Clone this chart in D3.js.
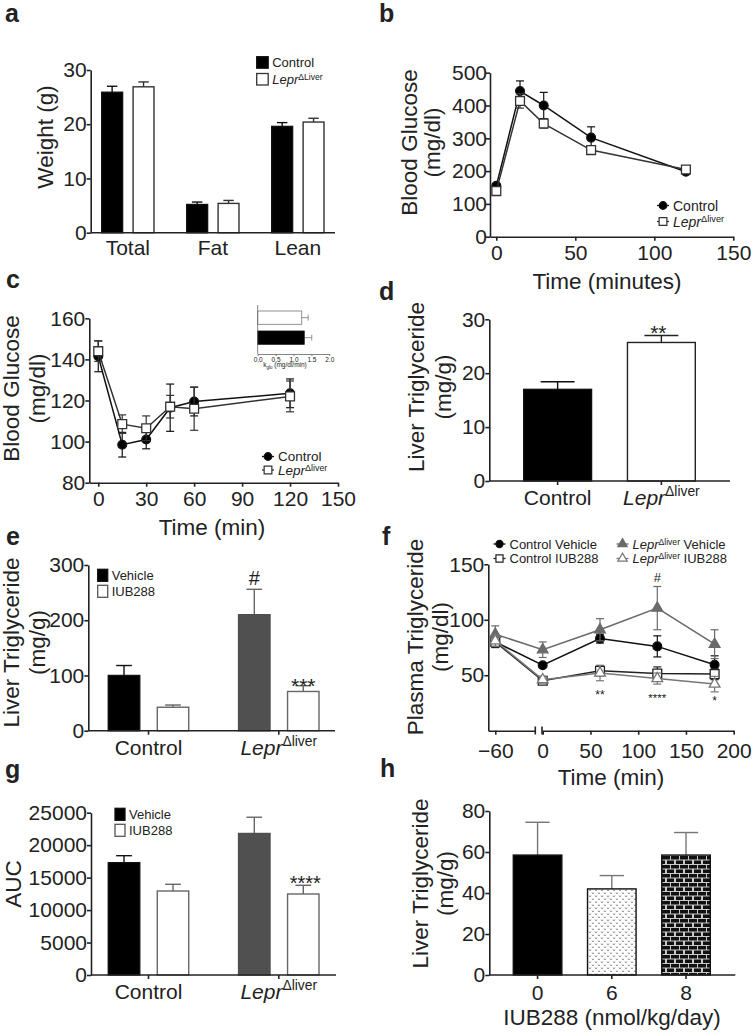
<!DOCTYPE html>
<html><head><meta charset="utf-8">
<script src="https://cdn.jsdelivr.net/npm/d3@7"></script>
<style>
body{margin:0;background:#fff}
svg text{font-family:"Liberation Sans",Arial,sans-serif;fill:#222}
</style>
</head><body>
<svg id="fig" width="752" height="1032"></svg>
<script>
// ---------- data ----------
// a: body composition
const weightGroups = ["Total", "Fat", "Lean"];
const weightControl = [25.9, 5.2, 19.6];
const weightControlSem = [1.1, 0.45, 0.7];
const weightLepr = [26.9, 5.4, 20.4];
const weightLeprSem = [0.9, 0.55, 0.7];
const weightTicks = [0, 10, 20, 30];

// b: GTT
const gttTime = [0, 15, 30, 60, 120];
const gttControl = [155, 444, 400, 302, 198];
const gttControlSem = [6, 31, 40, 33, 8];
const gttLepr = [139, 414, 345, 264, 205];
const gttLeprSem = [8, 22, 14, 10, 8];
const gttYTicks = [0, 100, 200, 300, 400, 500];
const gttXTicks = [0, 50, 100, 150];

// c: ITT
const ittTime = [0, 15, 30, 45, 60, 120];
const ittControl = [141.5, 98.5, 101, 116.5, 119.5, 123.5];
const ittControlSem = [7.5, 6, 4.5, 11.5, 7, 7];
const ittLepr = [144, 108.5, 106.5, 117, 116, 122];
const ittLeprSem = [5, 4.5, 6, 5.5, 10.5, 7.5];
const ittYTicks = [80, 100, 120, 140, 160];
const ittXTicks = [0, 30, 60, 90, 120, 150];
const kGroups = ["Lepr", "Control"];
const kValues = [1.23, 1.30];
const kSem = [0.18, 0.21];
const kTicks = [0, 0.5, 1, 1.5, 2];

// d: liver TG
const tgGroups = ["Control", "Lepr"];
const tgValues = [17.0, 25.7];
const tgSem = [1.4, 1.3];
const tgTicks = [0, 10, 20, 30];

// e: liver TG with IUB288
const trtGroups = ["Control", "Lepr"];
const liverVehicle = [100, 210];
const liverVehicleSem = [18, 46];
const liverIub = [42.5, 71];
const liverIubSem = [4, 10.5];
const liverTicks = [0, 100, 200, 300];

// f: plasma TG time course
const ptgTime = [-60, 0, 60, 120, 180];
const ptgCtrlVeh = [80, 59, 83, 76, 59.5];
const ptgCtrlVehSem = [5, 2, 4, 9.5, 8];
const ptgCtrlIub = [80, 45, 54, 51.5, 51];
const ptgCtrlIubSem = [5, 2, 4.5, 6, 5];
const ptgLeprVeh = [87, 73, 91, 110.5, 78];
const ptgLeprVehSem = [7.5, 7, 10, 19.5, 13];
const ptgLeprIub = [81, 46, 52, 47, 42];
const ptgLeprIubSem = [5, 3, 7, 5, 7];
const ptgYTicks = [50, 100, 150];
const ptgXTicks = [-60, 0, 50, 100, 150, 200];

// g: AUC
const aucVehicle = [17300, 21800];
const aucVehicleSem = [1080, 2500];
const aucIub = [12940, 12480];
const aucIubSem = [1030, 1340];
const aucTicks = [0, 5000, 10000, 15000, 20000, 25000];

// h: dose response
const doseGroups = ["0", "6", "8"];
const doseValues = [58.5, 42, 58.5];
const doseSem = [16, 6.5, 11];
const doseTicks = [0, 20, 40, 60, 80];

// ---------- helpers ----------
const svg = d3.select("#fig");
const INK = "#222";

const defs = svg.append("defs");
const dots = defs.append("pattern").attr("id", "dots").attr("patternUnits", "userSpaceOnUse")
  .attr("width", 6).attr("height", 6);
dots.append("rect").attr("width", 6).attr("height", 6).attr("fill", "#fff");
dots.append("path").attr("d", "M1,1.5 L2,3 L3,1.5 M4,4.5 L5,6 L6,4.5").attr("fill", "none")
  .attr("stroke", "#777").attr("stroke-width", 0.8);
const brick = defs.append("pattern").attr("id", "brick").attr("patternUnits", "userSpaceOnUse")
  .attr("width", 9).attr("height", 9);
brick.append("rect").attr("width", 9).attr("height", 9).attr("fill", "#111");
brick.append("path").attr("d", "M0,0.5H9 M0,5H9 M4.5,0.5V5 M0.5,5V9 M8.5,5V9").attr("fill", "none")
  .attr("stroke", "#ddd").attr("stroke-width", 0.9);

function styleAxis(ax, fs) {
  ax.selectAll("path,line").attr("stroke", INK).attr("stroke-width", 1.6);
  ax.selectAll("text").attr("fill", INK).style("font-size", fs + "px");
  return ax;
}

function leftAxis(y, x0, ticks, fs, pad) {
  const ax = svg.append("g").attr("transform", "translate(" + x0 + ",0)")
    .call(d3.axisLeft(y).tickValues(ticks).tickSize(4).tickSizeOuter(0)
      .tickPadding(pad == null ? 1 : pad).tickFormat(d3.format("d")));
  return styleAxis(ax, fs || 21);
}

function bottomAxis(x, y0, ticks, fs, pad) {
  const ax = svg.append("g").attr("transform", "translate(0," + y0 + ")")
    .call(d3.axisBottom(x).tickValues(ticks).tickSize(4).tickSizeOuter(0)
      .tickPadding(pad).tickFormat(d3.format("d")));
  return styleAxis(ax, fs || 21);
}

function addLepr(t, sup, size, rest, shift) {
  const s = size * (shift || 0.42);
  t.append("tspan").attr("font-style", "italic").text("Lepr");
  t.append("tspan").attr("dy", -s).style("font-size", (size * 0.66) + "px").text(sup);
  if (rest) t.append("tspan").attr("dy", s).text(rest);
}

// category axis for bars: line from xa to xb, labels at band centers
function categoryAxis(x, xa, xb, y0, tick, pad, fs, sup) {
  const ax = svg.append("g").attr("transform", "translate(0," + y0 + ")")
    .call(d3.axisBottom(x).tickSize(tick).tickSizeOuter(0).tickPadding(pad));
  ax.select(".domain").remove();
  styleAxis(ax, fs);
  ax.selectAll(".tick text").each(function(d) {
    if (d === "Lepr") { const t = d3.select(this).text(""); addLepr(t, sup, fs); }
  });
  svg.append("line").attr("x1", xa).attr("x2", xb).attr("y1", y0).attr("y2", y0)
    .attr("stroke", INK).attr("stroke-width", 1.6);
}

function bar(x, w, y, v, sem, fill, stroke, errColor) {
  const g = svg.append("g");
  g.append("line").attr("x1", x + w / 2).attr("x2", x + w / 2).attr("y1", y(v)).attr("y2", y(v + sem))
    .attr("stroke", errColor || stroke).attr("stroke-width", 1.4);
  g.append("line").attr("x1", x + w / 4).attr("x2", x + w * 3 / 4).attr("y1", y(v + sem)).attr("y2", y(v + sem))
    .attr("stroke", errColor || stroke).attr("stroke-width", 1.4);
  g.append("rect").attr("x", x).attr("y", y(v)).attr("width", w).attr("height", y(y.domain()[0]) - y(v))
    .attr("fill", fill).attr("stroke", stroke).attr("stroke-width", 1.4);
}

function yTitle(lines, xs, cy, fs) {
  lines.forEach((s, i) => {
    svg.append("text").attr("transform", "translate(" + xs[i] + "," + cy + ") rotate(-90)")
      .attr("text-anchor", "middle").style("font-size", fs + "px").text(s);
  });
}

function xTitle(s, cx, y, fs) {
  svg.append("text").attr("x", cx).attr("y", y).attr("text-anchor", "middle").style("font-size", fs + "px").text(s);
}

function letter(s, x, y) {
  svg.append("text").attr("x", x).attr("y", y).style("font-size", "25px").style("font-weight", "bold")
    .attr("fill", "#333").text(s);
}

function stars(s, x, y, fs) {
  svg.append("text").attr("x", x).attr("y", y).attr("text-anchor", "middle").style("font-size", fs + "px").text(s);
}

const symCircle = d3.symbol(d3.symbolCircle, 60)();
const symSquare = d3.symbol(d3.symbolSquare, 78)();
const symTriangle = d3.symbol(d3.symbolTriangle, 50)();

function series(x, y, t, v, sem, shape, fill, stroke) {
  const g = svg.append("g");
  g.append("path").datum(t.map((d, i) => [d, v[i]]))
    .attr("d", d3.line().x(d => x(d[0])).y(d => y(d[1])))
    .attr("fill", "none").attr("stroke", stroke).attr("stroke-width", 1.5);
  const e = g.selectAll(".err").data(t).enter().append("g");
  e.append("line").attr("x1", d => x(d)).attr("x2", d => x(d))
    .attr("y1", (d, i) => y(v[i] - sem[i])).attr("y2", (d, i) => y(v[i] + sem[i]));
  e.append("line").attr("x1", d => x(d) - 4).attr("x2", d => x(d) + 4)
    .attr("y1", (d, i) => y(v[i] + sem[i])).attr("y2", (d, i) => y(v[i] + sem[i]));
  e.append("line").attr("x1", d => x(d) - 4).attr("x2", d => x(d) + 4)
    .attr("y1", (d, i) => y(v[i] - sem[i])).attr("y2", (d, i) => y(v[i] - sem[i]));
  e.selectAll("line").attr("stroke", stroke).attr("stroke-width", 1.2);
  return g;
}

function markers(g, x, y, t, v, shape, fill, stroke) {
  g.selectAll(".m").data(t).enter().append("path")
    .attr("transform", (d, i) => "translate(" + x(d) + "," + y(v[i]) + ")")
    .attr("d", shape).attr("fill", fill).attr("stroke", stroke).attr("stroke-width", 1.3);
}

function legendMarker(x, y, shape, fill, stroke, label, fs, sup, rest) {
  svg.append("line").attr("x1", x - 6).attr("x2", x + 6).attr("y1", y).attr("y2", y)
    .attr("stroke", stroke).attr("stroke-width", 1.3);
  svg.append("path").attr("transform", "translate(" + x + "," + y + ")").attr("d", shape)
    .attr("fill", fill).attr("stroke", stroke).attr("stroke-width", 1.2);
  const t = svg.append("text").attr("x", x + 10).attr("y", y + fs * 0.36).style("font-size", fs + "px");
  if (sup) addLepr(t, sup, fs, rest, 0.3); else t.text(label);
}

function legendBox(x, y, w, h, fill, stroke, label, fs, sup) {
  svg.append("rect").attr("x", x).attr("y", y).attr("width", w).attr("height", h)
    .attr("fill", fill).attr("stroke", stroke).attr("stroke-width", 1.3);
  const t = svg.append("text").attr("x", x + w + 4).attr("y", y + h - 1).style("font-size", fs + "px");
  if (sup) addLepr(t, sup, fs, null, 0.32); else t.text(label);
}

// ---------- a ----------
letter("a", 5, 22);
{
  const y = d3.scaleLinear().domain([0, 30]).range([232.7, 70]);
  const x0 = d3.scaleBand().domain(weightGroups).range([101.7, 324]).paddingInner(0.385);
  const x1 = d3.scaleBand().domain(["c", "l"]).range([0, x0.bandwidth()]).paddingInner(0.335);
  weightGroups.forEach((g, i) => {
    bar(x0(g) + x1("c"), x1.bandwidth(), y, weightControl[i], weightControlSem[i], "#000", "#111");
    bar(x0(g) + x1("l"), x1.bandwidth(), y, weightLepr[i], weightLeprSem[i], "#fff", "#333");
  });
  leftAxis(y, 90.7, weightTicks, 21, 0);
  categoryAxis(x0, 90.7, 335, 232.7, 0, 7, 21);
  yTitle(["Weight (g)"], [53], 137, 22.5);
  legendBox(256.7, 56.7, 11.5, 11.5, "#000", "#111", "Control", 13);
  legendBox(256.7, 73.5, 11.5, 11.5, "#fff", "#333", "", 13, "\u0394Liver");
}

// ---------- b ----------
letter("b", 379, 22);
{
  const y = d3.scaleLinear().domain([0, 500]).range([236.7, 72.7]);
  const x = d3.scaleLinear().domain([-4, 150]).range([490, 733.3]);
  leftAxis(y, 490, gttYTicks, 21, -1);
  bottomAxis(x, 236.7, gttXTicks, 21, 4);
  const g1 = series(x, y, gttTime, gttControl, gttControlSem, symCircle, "#000", "#111");
  const g2 = series(x, y, gttTime, gttLepr, gttLeprSem, symSquare, "#fff", "#333");
  markers(g1, x, y, gttTime, gttControl, symCircle, "#000", "#111");
  markers(g2, x, y, gttTime, gttLepr, symSquare, "#fff", "#333");
  yTitle(["Blood Glucose", "(mg/dl)"], [416.5, 439.5], 142.5, 22.5);
  xTitle("Time (minutes)", 607, 288.5, 22.5);
  legendMarker(663, 205.5, d3.symbol(d3.symbolCircle, 45)(), "#000", "#111", "Control", 14);
  legendMarker(663, 221.5, d3.symbol(d3.symbolSquare, 60)(), "#fff", "#333", "", 14, "\u0394liver");
}

// ---------- c ----------
letter("c", 6, 288);
{
  const y = d3.scaleLinear().domain([80, 160]).range([482.7, 318.3]);
  const x = d3.scaleLinear().domain([-5.6, 150]).range([89.3, 338]);
  leftAxis(y, 89.3, ittYTicks, 21, 0);
  bottomAxis(x, 482.7, ittXTicks, 21, 4);
  const g1 = series(x, y, ittTime, ittControl, ittControlSem, symCircle, "#000", "#111");
  const g2 = series(x, y, ittTime, ittLepr, ittLeprSem, symSquare, "#fff", "#333");
  markers(g1, x, y, ittTime, ittControl, symCircle, "#000", "#111");
  markers(g2, x, y, ittTime, ittLepr, symSquare, "#fff", "#333");
  yTitle(["Blood Glucose", "(mg/dl)"], [19, 45], 388.5, 22.5);
  xTitle("Time (min)", 212, 535, 22.5);
  legendMarker(268, 456.5, d3.symbol(d3.symbolCircle, 45)(), "#000", "#111", "Control", 13.5);
  legendMarker(268, 470, d3.symbol(d3.symbolSquare, 60)(), "#fff", "#333", "", 13.5, "\u0394liver");

  // inset
  const kx = d3.scaleLinear().domain([0, 2]).range([257.7, 329.3]);
  const ky = d3.scaleBand().domain(kGroups).range([311, 344.3]).paddingInner(0.335);
  const kg = svg.append("g");
  kGroups.forEach((k, i) => {
    const yy = ky(k), h = ky.bandwidth(), c = yy + h / 2;
    const col = k === "Control" ? "#000" : "#fff";
    const st = k === "Control" ? "#111" : "#777";
    kg.append("line").attr("x1", kx(kValues[i])).attr("x2", kx(kValues[i] + kSem[i])).attr("y1", c).attr("y2", c)
      .attr("stroke", "#777").attr("stroke-width", 0.8);
    kg.append("line").attr("x1", kx(kValues[i] + kSem[i])).attr("x2", kx(kValues[i] + kSem[i]))
      .attr("y1", c - 3).attr("y2", c + 3).attr("stroke", "#777").attr("stroke-width", 0.8);
    kg.append("rect").attr("x", kx(0)).attr("y", yy).attr("width", kx(kValues[i]) - kx(0)).attr("height", h)
      .attr("fill", col).attr("stroke", st).attr("stroke-width", 0.8);
  });
  const kax = svg.append("g").attr("transform", "translate(0,354)")
    .call(d3.axisBottom(kx).tickValues(kTicks).tickSize(2).tickSizeOuter(0).tickPadding(1).tickFormat(d3.format(".1f")));
  kax.selectAll("path,line").attr("stroke", "#666").attr("stroke-width", 0.8);
  kax.selectAll("text").style("font-size", "6.5px").attr("fill", "#444");
  svg.append("line").attr("x1", 257.7).attr("x2", 257.7).attr("y1", 305).attr("y2", 354)
    .attr("stroke", "#666").attr("stroke-width", 0.8);
  const kt = svg.append("text").attr("x", 285).attr("y", 367).attr("text-anchor", "middle")
    .style("font-size", "6.5px").attr("fill", "#444");
  kt.append("tspan").text("k");
  kt.append("tspan").attr("dy", 1.5).style("font-size", "4.5px").text("glo");
  kt.append("tspan").attr("dy", -1.5).text(" (mg/dl/min)");
}

// ---------- d ----------
letter("d", 379, 300);
{
  const y = d3.scaleLinear().domain([0, 30]).range([481, 319.3]);
  const x = d3.scaleBand().domain(tgGroups).range([523.7, 695.3]).paddingInner(0.346);
  bar(x("Control"), x.bandwidth(), y, tgValues[0], tgSem[0], "#000", "#111");
  bar(x("Lepr"), x.bandwidth(), y, tgValues[1], tgSem[1], "#fff", "#222");
  leftAxis(y, 489.3, tgTicks, 21, 0);
  categoryAxis(x, 489.3, 730, 481, 4, 5, 21, "\u0394liver");
  yTitle(["Liver Triglyceride", "(mg/g)"], [423.5, 451], 387, 22.5);
  stars("**", x("Lepr") + x.bandwidth() / 2 - 3, 340, 21);
}

// ---------- e ----------
letter("e", 6, 545);
{
  const y = d3.scaleLinear().domain([0, 300]).range([730.7, 565]);
  const x0 = d3.scaleBand().domain(trtGroups).range([108.3, 319]).paddingInner(0.3826);
  const x1 = d3.scaleBand().domain(["v", "i"]).range([0, x0.bandwidth()]).paddingInner(0.358);
  const w = x1.bandwidth();
  bar(x0("Control") + x1("v"), w, y, liverVehicle[0], liverVehicleSem[0], "#000", "#111");
  bar(x0("Control") + x1("i"), w, y, liverIub[0], liverIubSem[0], "#fff", "#666");
  bar(x0("Lepr") + x1("v"), w, y, liverVehicle[1], liverVehicleSem[1], "#505050", "#505050", "#666");
  bar(x0("Lepr") + x1("i"), w, y, liverIub[1], liverIubSem[1], "#fff", "#666");
  leftAxis(y, 88.3, liverTicks, 21, 0);
  categoryAxis(x0, 88.3, 335, 730.7, 4, 5, 21, "\u0394liver");
  yTitle(["Liver Triglyceride", "(mg/g)"], [18.5, 45], 642.5, 22.5);
  stars("#", x0("Lepr") + x1("v") + w / 2, 585, 20);
  stars("***", x0("Lepr") + x1("i") + w / 2, 692.5, 21);
  legendBox(97.7, 569.3, 10, 12, "#000", "#111", "Vehicle", 13);
  legendBox(97.7, 585.3, 10, 12, "#fff", "#555", "IUB288", 13);
}

// ---------- f ----------
letter("f", 382, 545);
{
  const y = d3.scaleLinear().domain([0, 150]).range([730.7, 564.3]);
  const xl = d3.scaleLinear().domain([-67.3, -18.1]).range([488.3, 535.3]);
  const xr = d3.scaleLinear().domain([0, 200]).range([542.7, 733.7]);
  const x = t => t < 0 ? xl(t) : xr(t);
  leftAxis(y, 488.3, ptgYTicks, 21, 0);
  const axl = svg.append("g").attr("transform", "translate(0,730.7)")
    .call(d3.axisBottom(xl).tickValues([-60]).tickSize(4).tickSizeOuter(0).tickPadding(8));
  styleAxis(axl, 21);
  const axr = svg.append("g").attr("transform", "translate(0,730.7)")
    .call(d3.axisBottom(xr).tickValues(ptgXTicks.filter(t => t >= 0)).tickSize(4).tickSizeOuter(0).tickPadding(8));
  styleAxis(axr, 21);
  [535.3, 542].forEach(bx => svg.append("line").attr("x1", bx).attr("x2", bx).attr("y1", 726.5).attr("y2", 734.5)
    .attr("stroke", INK).attr("stroke-width", 1.6));

  const GREY = "#6a6a6a";
  const s1 = series(x, y, ptgTime, ptgCtrlVeh, ptgCtrlVehSem, symCircle, "#000", "#111");
  const s2 = series(x, y, ptgTime, ptgCtrlIub, ptgCtrlIubSem, symSquare, "#fff", "#222");
  const s3 = series(x, y, ptgTime, ptgLeprVeh, ptgLeprVehSem, symTriangle, GREY, GREY);
  const s4 = series(x, y, ptgTime, ptgLeprIub, ptgLeprIubSem, symTriangle, "#fff", "#777");
  markers(s1, x, y, ptgTime, ptgCtrlVeh, symCircle, "#000", "#111");
  markers(s2, x, y, ptgTime, ptgCtrlIub, symSquare, "#fff", "#222");
  markers(s3, x, y, ptgTime, ptgLeprVeh, symTriangle, GREY, GREY);
  markers(s4, x, y, ptgTime, ptgLeprIub, symTriangle, "#fff", "#777");

  yTitle(["Plasma Triglyceride", "(mg/dl)"], [422.5, 447.5], 637, 22.5);
  xTitle("Time (min)", 611, 785, 22.5);
  stars("#", x(120), 581.5, 13);
  stars("**", x(60), 699, 12);
  stars("****", x(120), 701.5, 11.5);
  stars("*", x(180), 705, 12);

  const sm = d3.symbol(d3.symbolCircle, 40)(), sq = d3.symbol(d3.symbolSquare, 50)(), tr = d3.symbol(d3.symbolTriangle, 38)();
  legendMarker(499.5, 544, sm, "#000", "#111", "Control Vehicle", 13);
  legendMarker(499.5, 558.5, sq, "#fff", "#222", "Control IUB288", 13);
  legendMarker(622.5, 544, tr, GREY, GREY, "", 13, "\u0394liver", " Vehicle");
  legendMarker(622.5, 558.5, tr, "#fff", "#777", "", 13, "\u0394liver", " IUB288");
}

// ---------- g ----------
letter("g", 5, 778);
{
  const y = d3.scaleLinear().domain([0, 25000]).range([975, 812.7]);
  const x0 = d3.scaleBand().domain(trtGroups).range([108.3, 319]).paddingInner(0.3826);
  const x1 = d3.scaleBand().domain(["v", "i"]).range([0, x0.bandwidth()]).paddingInner(0.358);
  const w = x1.bandwidth();
  bar(x0("Control") + x1("v"), w, y, aucVehicle[0], aucVehicleSem[0], "#000", "#111");
  bar(x0("Control") + x1("i"), w, y, aucIub[0], aucIubSem[0], "#fff", "#666");
  bar(x0("Lepr") + x1("v"), w, y, aucVehicle[1], aucVehicleSem[1], "#505050", "#505050", "#666");
  bar(x0("Lepr") + x1("i"), w, y, aucIub[1], aucIubSem[1], "#fff", "#666");
  leftAxis(y, 91, aucTicks, 21, 0);
  categoryAxis(x0, 91, 336, 975, 4, 5, 21, "\u0394liver");
  yTitle(["AUC"], [20.5], 884, 22.5);
  stars("****", x0("Lepr") + x1("i") + w / 2 + 2, 890, 20);
  legendBox(115, 808.3, 10, 12, "#000", "#111", "Vehicle", 13);
  legendBox(115, 824.3, 10, 12, "#fff", "#555", "IUB288", 13);
}

// ---------- h ----------
letter("h", 380, 777);
{
  const y = d3.scaleLinear().domain([0, 80]).range([975, 811]);
  const x = d3.scaleBand().domain(doseGroups).range([513.3, 710.3]).paddingInner(0.346);
  const fills = ["#000", "url(#dots)", "url(#brick)"];
  doseGroups.forEach((g, i) => bar(x(g), x.bandwidth(), y, doseValues[i], doseSem[i], fills[i], "#111", "#777"));
  leftAxis(y, 489.3, doseTicks, 21, 0);
  categoryAxis(x, 489.3, 735.3, 975, 4, 6, 21);
  yTitle(["Liver Triglyceride", "(mg/g)"], [427.5, 452.5], 883.5, 22.5);
  xTitle("IUB288 (nmol/kg/day)", 612, 1025, 22.5);
}
</script>
</body></html>
